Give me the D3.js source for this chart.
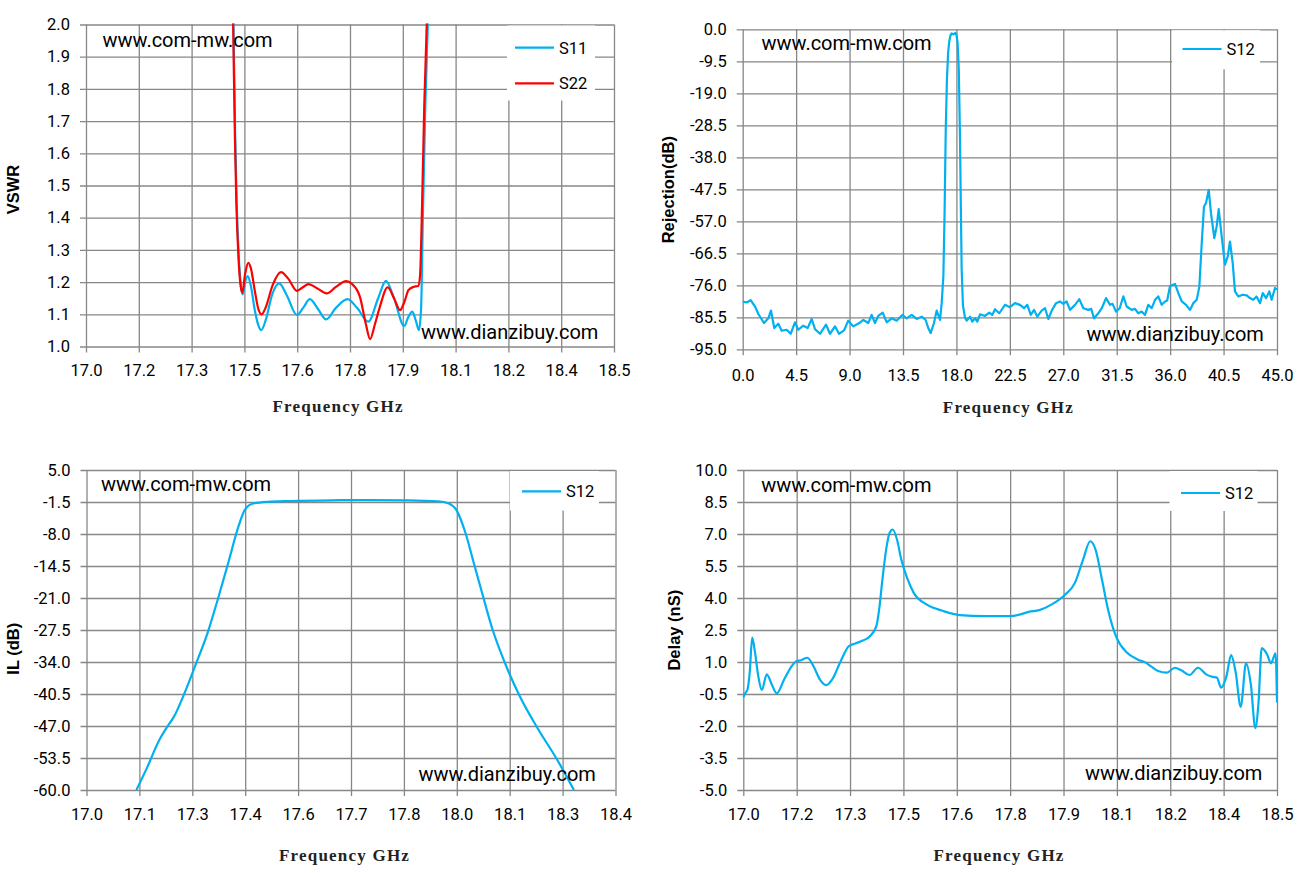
<!DOCTYPE html>
<html>
<head>
<meta charset="utf-8">
<script src="https://cdn.jsdelivr.net/npm/d3@7/dist/d3.min.js"></script>
<style>
  body { margin: 0; background: #fff; }
  .axis line { stroke: #878787; stroke-width: 1.3; }
  .axis text { font-family: Roboto, sans-serif; font-size: 16.5px; fill: #000; }
  .watermark { font-family: Roboto, sans-serif; font-size: 20px; fill: #000; }
  .legend-text { font-family: Roboto, sans-serif; font-size: 16.5px; fill: #000; }
  .y-title { font-family: 'Liberation Sans', Arial, sans-serif; font-weight: bold; font-size: 16.5px; fill: #000; }
  .x-title { font-family: 'Liberation Serif', serif; font-weight: bold; font-size: 17px; fill: #222; }
</style>
</head>
<body>
<svg id="chart" width="1305" height="873"></svg>
<script>
// ---- data ----
const vswrS11 = [
  [17.41, 2.5], [17.419, 2.0], [17.424, 1.65], [17.428, 1.45], [17.434, 1.28], [17.439, 1.2],
  [17.445, 1.162], [17.452, 1.2], [17.459, 1.219], [17.468, 1.19], [17.48, 1.11], [17.49, 1.065],
  [17.498, 1.051], [17.51, 1.08], [17.53, 1.165], [17.549, 1.196], [17.57, 1.16], [17.599, 1.098],
  [17.617, 1.12], [17.636, 1.147], [17.66, 1.115], [17.682, 1.084], [17.71, 1.12], [17.743, 1.147],
  [17.77, 1.12], [17.802, 1.077], [17.83, 1.15], [17.852, 1.204], [17.875, 1.15], [17.904, 1.064],
  [17.915, 1.09], [17.927, 1.108], [17.937, 1.08], [17.946, 1.051], [17.952, 1.12], [17.957, 1.4],
  [17.964, 1.75], [17.971, 2.0], [17.978, 2.4]
];
const vswrS22 = [
  [17.41, 2.5], [17.418, 2.0], [17.423, 1.65], [17.427, 1.45], [17.433, 1.28], [17.438, 1.2],
  [17.444, 1.167], [17.452, 1.225], [17.461, 1.26], [17.468, 1.245], [17.48, 1.17], [17.49, 1.115],
  [17.499, 1.1], [17.51, 1.12], [17.53, 1.19], [17.554, 1.231], [17.575, 1.21], [17.599, 1.173],
  [17.615, 1.183], [17.632, 1.194], [17.655, 1.182], [17.684, 1.165], [17.71, 1.185], [17.739, 1.203],
  [17.755, 1.195], [17.778, 1.155], [17.795, 1.07], [17.807, 1.023], [17.821, 1.07], [17.835, 1.124],
  [17.857, 1.184], [17.875, 1.15], [17.892, 1.113], [17.905, 1.14], [17.916, 1.175], [17.93, 1.185],
  [17.944, 1.188], [17.949, 1.22], [17.955, 1.45], [17.961, 1.75], [17.968, 2.0], [17.975, 2.4]
];
const rejectionS12 = [
  [0, -80.8], [0.35, -81.1], [0.67, -80.4], [1.04, -82.3], [1.33, -84.6], [1.79, -87.2], [2.16, -85.8],
  [2.38, -83.5], [2.66, -88.7], [3.0, -87.4], [3.28, -89.5], [3.7, -89.2], [4.04, -90.4], [4.4, -87.0],
  [4.68, -89.2], [5.1, -88.0], [5.47, -88.7], [5.81, -86.0], [6.09, -89.0], [6.51, -90.4], [7.02, -87.7],
  [7.35, -90.4], [7.77, -88.2], [8.11, -90.4], [8.53, -89.4], [8.89, -86.5], [9.31, -88.2], [9.82, -87.2],
  [10.16, -86.3], [10.58, -87.2], [10.86, -84.8], [11.14, -87.2], [11.42, -85.1], [11.79, -84.1],
  [12.13, -87.0], [12.55, -85.8], [12.97, -86.5], [13.44, -84.8], [13.81, -85.8], [14.23, -84.8],
  [14.66, -86.0], [15.08, -85.3], [15.41, -86.3], [15.63, -88.7], [15.83, -90.2], [16.11, -87.2],
  [16.34, -83.5], [16.62, -86.3], [16.76, -81.3], [16.9, -73.4], [17.0, -55], [17.1, -30], [17.2, -15],
  [17.3, -7], [17.4, -3.5], [17.5, -1.8], [17.6, -1.2], [17.75, -1.5], [17.9, -1.1], [18.0, -1.6],
  [18.1, -4], [18.2, -12], [18.3, -32], [18.38, -55], [18.44, -71], [18.55, -82], [18.72, -85.6],
  [18.87, -86.5], [19.15, -85.3],
  [19.34, -86.8], [19.57, -85.8], [19.76, -86.8], [19.99, -84.6], [20.41, -85.1], [20.77, -84.1],
  [21.02, -84.8], [21.25, -83.1], [21.61, -84.3], [22.09, -81.8], [22.51, -82.5], [22.93, -81.3],
  [23.36, -81.8], [23.69, -82.8], [23.97, -81.8], [24.26, -84.8], [24.54, -83.3], [24.81, -85.3],
  [25.18, -83.5], [25.46, -82.8], [25.74, -86.0], [26.03, -83.5], [26.39, -81.3], [26.72, -80.8],
  [27.0, -81.5], [27.28, -80.8], [27.57, -83.3], [27.99, -81.8], [28.35, -80.1], [28.69, -82.8],
  [29.11, -83.3], [29.35, -83.0], [29.59, -85.8], [29.95, -84.3], [30.24, -82.8], [30.6, -79.8],
  [30.94, -81.8], [31.15, -81.5], [31.44, -83.8], [31.75, -82.8], [32.06, -79.3], [32.34, -82.3],
  [32.76, -83.3], [33.04, -83.0], [33.32, -84.3], [33.6, -83.8], [33.88, -84.8], [34.16, -81.8],
  [34.45, -82.8], [34.73, -80.3], [35.0, -79.3], [35.29, -81.8], [35.57, -80.8], [35.75, -80.5],
  [35.99, -76.2], [36.41, -75.6], [36.69, -78.3], [36.98, -80.8], [37.34, -81.8], [37.67, -83.3],
  [37.95, -81.3], [38.24, -80.3], [38.46, -76.4], [38.66, -63.5], [38.85, -52.6], [39.02, -51.6],
  [39.25, -47.7], [39.44, -54.6], [39.72, -62.0], [39.92, -58.5], [40.09, -53.4], [40.34, -61.5],
  [40.62, -69.9], [40.85, -67.4], [41.04, -63.0], [41.27, -69.4], [41.46, -77.8], [41.74, -79.3],
  [42.1, -78.8], [42.45, -79.0], [42.72, -79.8], [43.0, -80.3], [43.28, -79.3], [43.57, -81.3],
  [43.8, -78.3], [44.08, -79.8], [44.35, -77.8], [44.55, -80.3], [44.83, -76.8], [45.0, -77.3]
];
const insertionS12 = [
  [17.132, -60], [17.16, -55.5], [17.193, -49.8], [17.215, -47.0], [17.2315, -45.1], [17.259, -40.4],
  [17.287, -34.9], [17.32, -28.2], [17.347, -21.4], [17.375, -13.9], [17.402, -6.5], [17.419, -3.1],
  [17.441, -1.8], [17.48, -1.45], [17.54, -1.3], [17.65, -1.15], [17.75, -1.1], [17.85, -1.15],
  [17.93, -1.35], [17.959, -1.8], [17.981, -3.4], [18.003, -7.8], [18.025, -13.9], [18.047, -20.0],
  [18.075, -27.5], [18.108, -34.3], [18.147, -41.0], [18.191, -47.1], [18.246, -53.9], [18.29, -60]
];
const delayS12 = [
  [17.0, -0.65], [17.006, -0.45], [17.012, -0.28], [17.018, 0.5], [17.025, 2.14], [17.033, 1.44],
  [17.042, 0.34], [17.052, -0.31], [17.066, 0.42], [17.08, -0.05], [17.094, -0.47], [17.115, 0.19],
  [17.133, 0.73], [17.15, 1.05], [17.162, 1.08], [17.18, 1.2], [17.197, 0.81], [17.215, 0.19],
  [17.233, -0.08], [17.25, 0.19], [17.274, 1.05], [17.297, 1.75], [17.315, 1.87], [17.332, 1.98],
  [17.356, 2.21], [17.374, 2.68], [17.383, 3.62], [17.391, 4.87], [17.403, 6.43], [17.411, 7.05],
  [17.42, 7.21], [17.432, 6.74], [17.444, 5.8], [17.462, 4.87], [17.479, 4.24], [17.515, 3.7],
  [17.562, 3.39], [17.608, 3.2], [17.679, 3.15], [17.749, 3.15], [17.779, 3.23], [17.802, 3.35],
  [17.832, 3.43], [17.867, 3.7], [17.902, 4.12], [17.932, 4.71], [17.955, 5.8], [17.975, 6.66],
  [17.99, 6.27], [18.008, 4.87], [18.025, 3.46], [18.049, 2.14], [18.078, 1.44], [18.108, 1.12],
  [18.131, 0.97], [18.149, 0.76], [18.166, 0.58], [18.19, 0.5], [18.213, 0.73], [18.231, 0.61],
  [18.254, 0.39], [18.278, 0.73], [18.301, 0.42], [18.319, 0.3], [18.331, 0.27], [18.343, -0.2],
  [18.358, 0.34], [18.371, 1.32], [18.384, 0.5], [18.398, -1.1], [18.413, 0.94], [18.427, -0.12],
  [18.439, -2.1], [18.448, -0.9], [18.457, 1.65], [18.472, 1.36], [18.483, 0.94], [18.496, 1.41],
  [18.5, -0.9]
];

// tick labels as printed (Excel rounds the 0.15 / 0.14 steps to one decimal)
const vswrXLabels = ['17.0', '17.2', '17.3', '17.5', '17.6', '17.8', '17.9', '18.1', '18.2', '18.4', '18.5'];
const vswrYLabels = ['1.0', '1.1', '1.2', '1.3', '1.4', '1.5', '1.6', '1.7', '1.8', '1.9', '2.0'];
const rejXLabels = ['0.0', '4.5', '9.0', '13.5', '18.0', '22.5', '27.0', '31.5', '36.0', '40.5', '45.0'];
const rejYLabels = ['-95.0', '-85.5', '-76.0', '-66.5', '-57.0', '-47.5', '-38.0', '-28.5', '-19.0', '-9.5', '0.0'];
const ilXLabels = ['17.0', '17.1', '17.3', '17.4', '17.6', '17.7', '17.8', '18.0', '18.1', '18.3', '18.4'];
const ilYLabels = ['-60.0', '-53.5', '-47.0', '-40.5', '-34.0', '-27.5', '-21.0', '-14.5', '-8.0', '-1.5', '5.0'];
const delayXLabels = ['17.0', '17.2', '17.3', '17.5', '17.6', '17.8', '17.9', '18.1', '18.2', '18.4', '18.5'];
const delayYLabels = ['-5.0', '-3.5', '-2.0', '-0.5', '1.0', '2.5', '4.0', '5.5', '7.0', '8.5', '10.0'];

const blue = '#00b0f0';
const red = '#ff0000';
const svg = d3.select('#chart');

function steps(domain) {
  return d3.range(11).map((i) => domain[0] + i * (domain[1] - domain[0]) / 10);
}

function drawPanel(p, idx) {
  const g = svg.append('g');
  const x = d3.scaleLinear().domain(p.xDomain).range([p.left, p.right]);
  const y = d3.scaleLinear().domain(p.yDomain).range([p.bottom, p.top]);
  const w = p.right - p.left;
  const h = p.bottom - p.top;

  g.append('g')
    .attr('class', 'axis')
    .attr('transform', `translate(${p.left - 6},0)`)
    .call(d3.axisLeft(y).tickValues(steps(p.yDomain)).tickFormat((d, i) => p.yLabels[i])
      .tickSize(-(w + 6)).tickSizeOuter(0).tickPadding(10))
    .call((a) => a.select('.domain').remove());

  g.append('g')
    .attr('class', 'axis')
    .attr('transform', `translate(0,${p.bottom + 6})`)
    .call(d3.axisBottom(x).tickValues(steps(p.xDomain)).tickFormat((d, i) => p.xLabels[i])
      .tickSize(-(h + 6)).tickSizeOuter(0).tickPadding(p.xPad))
    .call((a) => a.select('.domain').remove());

  const clipId = `clip${idx}`;
  svg.append('clipPath').attr('id', clipId)
    .append('rect').attr('x', p.left - 1).attr('y', p.top - 1).attr('width', w + 2).attr('height', h + 2);

  const line = d3.line().x((d) => x(d[0])).y((d) => y(d[1])).curve(p.curve);
  p.series.forEach((s) => {
    g.append('path')
      .datum(s.data)
      .attr('clip-path', `url(#${clipId})`)
      .attr('fill', 'none')
      .attr('stroke', s.color)
      .attr('stroke-width', 2.2)
      .attr('stroke-linejoin', 'round')
      .attr('d', line);
  });

  // legend
  const lg = p.legend;
  g.append('rect').attr('x', lg.x).attr('y', lg.y).attr('width', lg.w).attr('height', lg.h).attr('fill', '#fff');
  p.series.forEach((s, i) => {
    const ly = lg.rowY + i * 35.6;
    g.append('line').attr('x1', lg.lineX).attr('x2', lg.lineX + 39).attr('y1', ly).attr('y2', ly)
      .attr('stroke', s.color).attr('stroke-width', 2.2);
    g.append('text').attr('class', 'legend-text').attr('x', lg.lineX + 44).attr('y', ly + 6).text(s.name);
  });

  // site marks
  g.append('text').attr('class', 'watermark').attr('x', p.mark1[0]).attr('y', p.mark1[1]).text('www.com-mw.com');
  g.append('text').attr('class', 'watermark').attr('x', p.mark2[0]).attr('y', p.mark2[1]).text('www.dianzibuy.com');

  // titles
  g.append('text').attr('class', 'y-title')
    .attr('transform', `translate(${p.yTitle[0]},${p.yTitle[1]}) rotate(-90)`)
    .attr('text-anchor', 'middle').text(p.yName);
  g.append('text').attr('class', 'x-title')
    .attr('x', p.xTitle[0]).attr('y', p.xTitle[1]).attr('text-anchor', 'middle')
    .attr('textLength', 130).attr('lengthAdjust', 'spacing')
    .text('Frequency GHz');
}

const panels = [
  {
    left: 86, right: 614, top: 24.5, bottom: 346.5, xPad: 11.5,
    xDomain: [17.0, 18.5], yDomain: [1.0, 2.0], xLabels: vswrXLabels, yLabels: vswrYLabels,
    curve: d3.curveMonotoneX,
    series: [{ name: 'S11', color: blue, data: vswrS11 }, { name: 'S22', color: red, data: vswrS22 }],
    legend: { x: 507, y: 25.5, w: 88, h: 75, lineX: 515, rowY: 47.7 },
    mark1: [102.5, 46.5], mark2: [421, 338.5],
    yName: 'VSWR', yTitle: [19, 189.5], xTitle: [337.5, 411.5]
  },
  {
    left: 742.7, right: 1277, top: 29.3, bottom: 349.3, xPad: 13.5,
    xDomain: [0, 45], yDomain: [-95, 0], xLabels: rejXLabels, yLabels: rejYLabels,
    curve: d3.curveLinear,
    series: [{ name: 'S12', color: blue, data: rejectionS12 }],
    legend: { x: 1172, y: 30.3, w: 88, h: 39, lineX: 1182.5, rowY: 49 },
    mark1: [761.5, 50.2], mark2: [1086.5, 341.3],
    yName: 'Rejection(dB)', yTitle: [673.5, 189.7], xTitle: [1007.8, 413]
  },
  {
    left: 86.5, right: 615.5, top: 470, bottom: 790, xPad: 12.5,
    xDomain: [17.0, 18.4], yDomain: [-60, 5], xLabels: ilXLabels, yLabels: ilYLabels,
    curve: d3.curveMonotoneX,
    series: [{ name: 'S12', color: blue, data: insertionS12 }],
    legend: { x: 510, y: 471, w: 89, h: 39.5, lineX: 522, rowY: 491.4 },
    mark1: [101, 491], mark2: [418.5, 781],
    yName: 'IL (dB)', yTitle: [18.5, 648.7], xTitle: [343.9, 860.5]
  },
  {
    left: 743.3, right: 1277, top: 470, bottom: 790, xPad: 12.5,
    xDomain: [17.0, 18.5], yDomain: [-5, 10], xLabels: delayXLabels, yLabels: delayYLabels,
    curve: d3.curveMonotoneX,
    series: [{ name: 'S12', color: blue, data: delayS12 }],
    legend: { x: 1169.5, y: 471, w: 88, h: 40, lineX: 1181, rowY: 493 },
    mark1: [761.3, 492.3], mark2: [1085, 780],
    yName: 'Delay (nS)', yTitle: [680, 630.2], xTitle: [998.4, 860.5]
  }
];

panels.forEach(drawPanel);
</script>
</body>
</html>
